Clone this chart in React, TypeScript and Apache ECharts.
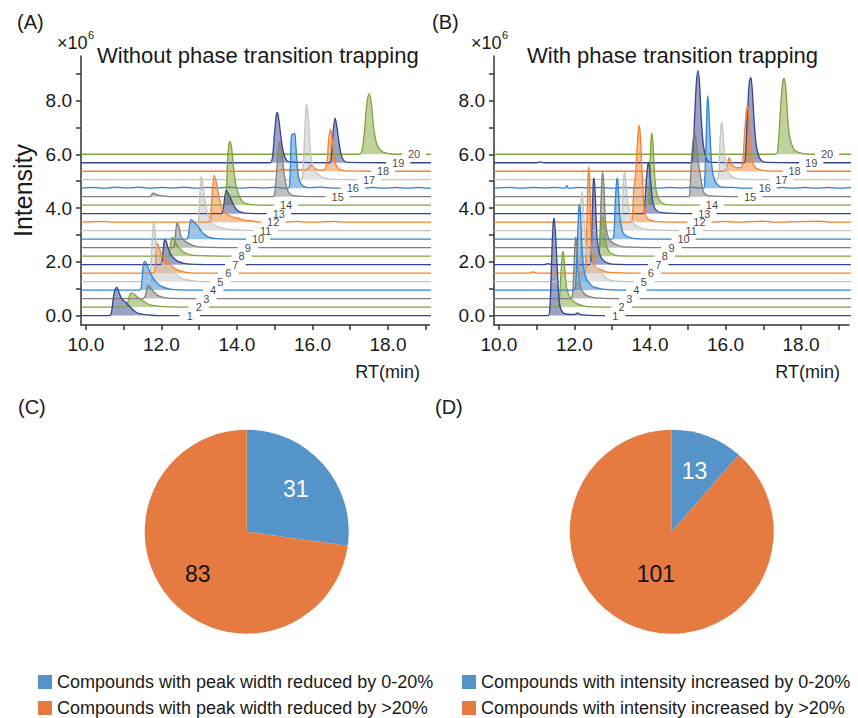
import React, { useEffect, useRef } from "react";
import * as echarts from "echarts";

// ---------- DATA ----------
// trace colour cycle (bottom to top): navy, green, dark grey, blue, light grey, orange
const traceColors = ["#35468c", "#80a43c", "#7f7f7f", "#2f85d6", "#c4c4c4", "#f5822e"];
const baselineStep = 0.316; // ×10^6 offset between successive traces

// Panel A (without trapping): [RT (min), intensity above the trace's baseline (×10^6)]
const peaksA: number[][][] = [
  [[10.62,0],[10.68,0.15],[10.73,0.7],[10.78,1.0],[10.82,1.05],[10.88,0.85],[10.95,0.62],[11.05,0.5],[11.15,0.35],[11.3,0.15],[11.45,0.06],[11.7,0.02],[11.85,0]],
  [[11.06,0],[11.12,0.25],[11.17,0.48],[11.22,0.53],[11.3,0.45],[11.4,0.33],[11.55,0.2],[11.7,0.08],[11.9,0.04],[12.2,0.01]],
  [[11.5,0],[11.57,0.1],[11.62,0.4],[11.66,0.5],[11.72,0.4],[11.8,0.25],[11.9,0.12],[12.05,0.05],[12.25,0.01]],
  [[11.42,0],[11.47,0.15],[11.51,0.8],[11.55,1.07],[11.6,1.0],[11.67,0.75],[11.78,0.45],[11.9,0.25],[12.0,0.14],[12.2,0.05],[12.45,0.01]],
  [[11.65,0],[11.7,0.2],[11.74,1.2],[11.78,2.1],[11.81,2.18],[11.85,1.6],[11.9,1.0],[11.97,0.75],[12.1,0.6],[12.2,0.5],[12.3,0.4],[12.4,0.25],[12.55,0.1],[12.8,0.04],[13.0,0.01]],
  [[11.78,0],[11.83,0.15],[11.86,0.7],[11.89,1.1],[11.93,1.0],[12.0,0.7],[12.1,0.5],[12.18,0.38],[12.3,0.22],[12.45,0.1],[12.65,0.03],[12.9,0]],
  [[11.97,0],[12.02,0.2],[12.06,0.75],[12.09,0.93],[12.13,0.85],[12.18,0.6],[12.23,0.42],[12.32,0.25],[12.44,0.12],[12.6,0.05],[12.9,0.01]],
  [[12.17,0],[12.22,0.2],[12.26,0.6],[12.3,0.7],[12.35,0.6],[12.42,0.4],[12.53,0.22],[12.65,0.1],[12.85,0.03]],
  [[12.3,0],[12.35,0.2],[12.39,0.75],[12.42,0.92],[12.46,0.8],[12.52,0.42],[12.6,0.27],[12.72,0.16],[12.88,0.06],[13.1,0.02]],
  [[12.66,0],[12.71,0.1],[12.75,0.55],[12.79,0.73],[12.85,0.65],[12.93,0.54],[13.0,0.42],[13.06,0.29],[13.15,0.16],[13.25,0.08],[13.45,0.02]],
  [[12.93,0],[12.98,0.3],[13.02,1.4],[13.06,2.0],[13.1,1.7],[13.15,1.1],[13.2,0.75],[13.27,0.45],[13.35,0.28],[13.5,0.14],[13.7,0.07],[14.0,0.03]],
  [[10.5,0.03],[10.7,0],[13.25,0],[13.3,0.2],[13.35,1.2],[13.4,1.74],[13.45,1.5],[13.52,0.96],[13.6,0.55],[13.7,0.35],[13.8,0.25],[14.0,0.15],[14.2,0.08],[14.45,0.03],[14.6,0],[15.6,0.03],[15.9,0],[16.6,0.03],[16.9,0]],
  [[13.58,0],[13.64,0.2],[13.68,0.65],[13.72,0.87],[13.77,0.75],[13.85,0.52],[13.92,0.3],[14.0,0.14],[14.12,0.05],[14.3,0.01]],
  [[13.66,0],[13.71,0.3],[13.75,1.6],[13.79,2.3],[13.82,2.37],[13.86,2.1],[13.92,1.3],[13.98,0.7],[14.04,0.42],[14.12,0.18],[14.2,0.08],[14.4,0.02]],
  [[11.7,0],[11.75,0.1],[11.8,0.13],[11.87,0.08],[11.95,0.05],[12.1,0.02],[12.3,0],[14.95,0],[15.0,0.1],[15.05,0.9],[15.1,1.8],[15.13,2.05],[15.17,1.8],[15.22,1.2],[15.28,0.6],[15.34,0.25],[15.42,0.08],[15.6,0.02]],
  [[10.2,0.03],[10.5,0],[10.8,0.04],[11.1,0.01],[11.4,0.04],[11.7,0],[12.0,0.03],[12.3,0.01],[12.6,0.04],[12.9,0],[13.2,0.03],[13.5,0.01],[13.8,0.04],[14.1,0],[14.4,0.03],[14.7,0.01],[15.0,0.04],[15.2,0.01],[15.36,0],[15.4,0.2],[15.43,1.6],[15.45,2.0],[15.49,2.0],[15.53,2.05],[15.56,1.6],[15.6,0.8],[15.65,0.3],[15.75,0.08],[15.9,0.02],[16.2,0.04],[16.5,0.01],[17.6,0.03],[17.9,0],[18.2,0.03],[18.5,0],[18.8,0.03],[19.1,0]],
  [[13.0,0],[13.05,0.1],[13.1,0],[15.7,0],[15.75,0.3],[15.79,1.6],[15.83,2.7],[15.85,2.79],[15.89,2.3],[15.94,1.2],[16.0,0.55],[16.1,0.28],[16.2,0.15],[16.35,0.05],[16.6,0.01]],
  [[15.1,0],[15.2,0.08],[15.3,0.05],[15.5,0.06],[15.8,0.05],[15.9,0.12],[15.97,0.24],[16.05,0.12],[16.15,0.04],[16.3,0.05],[16.38,0.3],[16.43,1.2],[16.48,1.57],[16.53,1.1],[16.58,0.45],[16.65,0.15],[16.75,0.05],[16.9,0.01]],
  [[14.88,0],[14.94,0.2],[14.99,1.0],[15.04,1.75],[15.07,1.87],[15.11,1.6],[15.17,0.9],[15.23,0.4],[15.3,0.12],[15.4,0.03],[16.45,0],[16.5,0.25],[16.55,1.2],[16.6,1.66],[16.64,1.4],[16.7,0.8],[16.76,0.3],[16.83,0.08],[16.95,0.01]],
  [[17.25,0],[17.32,0.2],[17.38,0.9],[17.44,1.9],[17.5,2.25],[17.56,1.9],[17.62,1.0],[17.7,0.4],[17.8,0.15],[17.95,0.04],[18.1,0.01]],
];

// Panel B (with trapping)
const peaksB: number[][][] = [
  [[11.3,0],[11.35,0.3],[11.39,1.8],[11.43,3.3],[11.46,3.63],[11.5,3.0],[11.55,1.6],[11.6,0.5],[11.67,0.15],[11.8,0.05],[12.0,0.04],[12.08,0.1],[12.15,0.04],[12.3,0.02]],
  [[11.55,0],[11.6,0.2],[11.64,1.2],[11.68,2.0],[11.7,2.07],[11.74,1.5],[11.79,0.75],[11.86,0.42],[11.95,0.25],[12.05,0.14],[12.2,0.06],[12.35,0.02]],
  [[11.9,0],[11.95,0.2],[11.99,1.3],[12.02,2.1],[12.04,2.3],[12.07,1.9],[12.11,0.9],[12.17,0.4],[12.25,0.2],[12.35,0.1],[12.55,0.03]],
  [[11.98,0],[12.03,0.2],[12.07,1.5],[12.11,2.9],[12.13,3.2],[12.16,2.8],[12.2,1.6],[12.25,0.75],[12.32,0.4],[12.4,0.25],[12.5,0.12],[12.7,0.05],[12.9,0.02]],
  [[12.05,0],[12.1,0.3],[12.14,1.8],[12.18,3.1],[12.2,3.36],[12.23,3.0],[12.27,2.0],[12.32,1.1],[12.38,0.8],[12.48,0.6],[12.6,0.5],[12.7,0.35],[12.82,0.15],[12.95,0.05],[13.1,0.02]],
  [[10.8,0],[10.9,0.05],[11.0,0],[12.26,0],[12.3,0.3],[12.33,2.0],[12.36,3.6],[12.38,3.95],[12.41,3.2],[12.44,1.2],[12.48,0.5],[12.55,0.25],[12.7,0.12],[12.9,0.03]],
  [[11.2,0],[11.3,0.04],[11.4,0],[12.4,0],[12.44,0.3],[12.47,1.8],[12.5,3.1],[12.52,3.22],[12.55,2.6],[12.6,1.0],[12.66,0.45],[12.75,0.18],[12.9,0.05],[13.1,0.01]],
  [[12.62,0],[12.66,0.2],[12.7,0.9],[12.74,1.5],[12.77,1.4],[12.81,0.8],[12.86,0.35],[12.93,0.15],[13.05,0.05],[13.2,0.01]],
  [[12.63,0],[12.67,0.3],[12.7,1.6],[12.73,2.6],[12.75,2.8],[12.78,2.3],[12.82,1.0],[12.88,0.45],[12.97,0.22],[13.1,0.12],[13.3,0.03]],
  [[13.0,0],[13.05,0.3],[13.08,1.4],[13.12,2.2],[13.14,2.28],[13.17,1.7],[13.21,0.75],[13.27,0.3],[13.35,0.14],[13.5,0.05],[13.7,0.01]],
  [[13.2,0],[13.25,0.3],[13.28,1.3],[13.31,2.05],[13.33,2.17],[13.37,1.7],[13.43,0.9],[13.5,0.45],[13.6,0.22],[13.75,0.1],[13.95,0.04]],
  [[13.5,0],[13.54,0.3],[13.57,1.2],[13.62,1.8],[13.66,2.8],[13.7,3.55],[13.72,3.59],[13.76,2.8],[13.8,1.6],[13.84,0.6],[13.9,0.2],[14.0,0.08],[14.2,0.02],[16.0,0.03],[16.3,0],[17.0,0.04],[17.3,0],[18.5,0.04],[18.8,0]],
  [[13.82,0],[13.86,0.3],[13.9,1.2],[13.94,1.8],[13.96,1.92],[13.99,1.7],[14.03,1.0],[14.08,0.4],[14.15,0.15],[14.3,0.04]],
  [[13.94,0],[13.97,0.3],[14.0,1.5],[14.03,2.5],[14.05,2.68],[14.08,2.3],[14.12,1.2],[14.17,0.5],[14.24,0.2],[14.35,0.06],[14.5,0.01]],
  [[15.02,0],[15.06,0.3],[15.1,1.4],[15.15,2.2],[15.19,2.37],[15.23,2.0],[15.28,1.3],[15.33,0.85],[15.38,0.4],[15.43,0.14],[15.55,0.04]],
  [[10.3,0.03],[10.6,0],[10.9,0.03],[11.2,0.01],[11.5,0.03],[11.75,0],[11.8,0.1],[11.85,0],[12.1,0.03],[12.4,0.01],[12.7,0.03],[13.0,0],[13.3,0.03],[13.6,0.01],[13.9,0.03],[14.2,0],[14.5,0.03],[14.8,0.01],[15.1,0.03],[15.3,0.01],[15.42,0],[15.45,0.3],[15.48,1.5],[15.51,3.0],[15.53,3.44],[15.56,2.9],[15.6,1.7],[15.64,0.8],[15.7,0.35],[15.78,0.15],[15.9,0.04],[16.2,0.03],[16.5,0],[17.5,0.03],[17.8,0],[18.1,0.03],[18.4,0],[18.7,0.03],[19.0,0],[19.3,0.02]],
  [[15.78,0],[15.82,0.3],[15.85,1.3],[15.88,2.0],[15.9,2.13],[15.93,1.8],[15.97,1.0],[16.02,0.5],[16.08,0.25],[16.2,0.1],[16.4,0.02]],
  [[15.95,0],[16.02,0.1],[16.07,0.4],[16.1,0.51],[16.14,0.35],[16.2,0.2],[16.3,0.13],[16.42,0.15],[16.46,0.4],[16.5,1.3],[16.55,2.2],[16.58,2.43],[16.62,1.9],[16.66,1.0],[16.71,0.4],[16.8,0.12],[16.95,0.04],[17.1,0.01]],
  [[11.0,0],[11.1,0.03],[11.2,0],[15.08,0],[15.13,0.3],[15.18,1.6],[15.23,3.0],[15.27,3.43],[15.31,3.0],[15.36,1.6],[15.41,0.7],[15.46,0.3],[15.52,0.08],[15.65,0.01],[16.48,0],[16.53,0.3],[16.58,1.8],[16.63,3.0],[16.67,3.18],[16.71,2.7],[16.76,1.5],[16.82,0.6],[16.88,0.25],[16.95,0.08],[17.1,0.01]],
  [[17.33,0],[17.39,0.3],[17.44,1.3],[17.5,2.5],[17.55,2.83],[17.6,2.4],[17.65,1.3],[17.7,0.65],[17.77,0.3],[17.85,0.12],[18.0,0.04],[18.15,0.01]],
];

// RT at which each trace number is written (the trace line is broken there)
const labelRtA = [12.75,12.99,13.19,13.37,13.56,13.77,13.96,14.12,14.29,14.56,14.76,14.96,15.11,15.3,16.67,17.07,17.5,17.87,18.27,18.69];
const labelRtB = [13.08,13.25,13.45,13.64,13.84,14.02,14.22,14.39,14.57,14.89,15.09,15.31,15.44,15.64,16.65,17.04,17.48,17.83,18.27,18.69];

const yTickValues = [0, 1, 2, 3, 4, 5, 6, 7, 8, 9];
const yLabelValues = [0, 2, 4, 6, 8];
const xTickValues = [10, 11, 12, 13, 14, 15, 16, 17, 18, 19];
const xLabelValues = [10, 12, 14, 16, 18];

const pieNamesC = ["Compounds with peak width reduced by 0-20%", "Compounds with peak width reduced by >20%"];
const pieValuesC = [31, 83];
const pieNamesD = ["Compounds with intensity increased by 0-20%", "Compounds with intensity increased by >20%"];
const pieValuesD = [13, 101];

// ---------- STYLE ----------
const FONT = "'Liberation Sans', Arial, Helvetica, sans-serif";
const PIE_BLUE = "#5494c8";
const PIE_ORANGE = "#e57b41";
const AXIS_COLOR = "#333";
const TEXT_COLOR = "#1a1a1a";

function buildTrace(pts: number[][], idx: number, start: number, end: number, labelRt: number) {
  const base = idx * baselineStep;
  const w = idx + 1 >= 10 ? 0.32 : 0.27;
  const g0 = labelRt - w;
  const g1 = labelRt + w;
  const all = [[start, 0], ...pts, [end, 0]].slice().sort((a, b) => a[0] - b[0]);
  const out: any[] = [];
  let gapDone = false;
  for (const p of all) {
    if (p[0] >= g0 && p[0] <= g1) continue;
    if (!gapDone && p[0] > g1) {
      out.push([g0, base], [(g0 + g1) / 2, "-"], [g1, base]);
      gapDone = true;
    }
    out.push([p[0], base + p[1]]);
  }
  if (!gapDone) out.push([g0, base], [(g0 + g1) / 2, "-"], [g1, base]);
  return out;
}

function panelSeries(peaks: number[][][], labels: number[], axisIndex: number, start: number, end: number) {
  const series: any[] = [];
  for (let i = peaks.length - 1; i >= 0; i--) {
    const color = traceColors[i % traceColors.length];
    series.push({
      type: "line",
      xAxisIndex: axisIndex,
      yAxisIndex: axisIndex,
      data: buildTrace(peaks[i], i, start, end, labels[i]),
      symbol: "none",
      smooth: 0.3,
      connectNulls: false,
      clip: false,
      silent: true,
      lineStyle: { color, width: 1.3 },
      itemStyle: { color },
      areaStyle: { color, opacity: 0.5, origin: i * baselineStep },
      emphasis: { disabled: true },
      z: 2,
    });
  }
  series.push({
    type: "scatter",
    xAxisIndex: axisIndex,
    yAxisIndex: axisIndex,
    symbolSize: 1,
    silent: true,
    clip: false,
    itemStyle: { color: "rgba(0,0,0,0)" },
    label: {
      show: true,
      position: "inside",
      formatter: "{b}",
      fontSize: 11,
      lineHeight: 9,
      fontFamily: FONT,
      color: "#111",
    },
    data: labels.map((l, i) => ({ name: String(i + 1), value: [l, i * baselineStep] })),
    z: 5,
  });
  return series;
}

function axisPair(gridIndex: number, xmin: number, xmax: number, withName: boolean) {
  const lineStyle = { color: AXIS_COLOR, width: 1.5 };
  return {
    x: {
      type: "value",
      gridIndex,
      min: xmin,
      max: xmax,
      axisLine: { show: true, onZero: false, lineStyle },
      axisTick: { show: true, customValues: xTickValues, length: 5, lineStyle },
      axisLabel: {
        customValues: xLabelValues,
        formatter: (v: number) => v.toFixed(1),
        fontSize: 19,
        fontFamily: FONT,
        color: TEXT_COLOR,
        margin: 10,
      },
      splitLine: { show: false },
    },
    y: {
      type: "value",
      gridIndex,
      min: -0.35,
      max: 9.66,
      name: withName ? "Intensity" : "",
      nameLocation: "middle",
      nameGap: 46,
      nameRotate: 90,
      nameTextStyle: { fontSize: 25, fontFamily: FONT, color: TEXT_COLOR },
      axisLine: { show: true, onZero: false, lineStyle },
      axisTick: { show: true, customValues: yTickValues, length: 5, lineStyle },
      axisLabel: {
        customValues: yLabelValues,
        formatter: (v: number) => v.toFixed(1),
        fontSize: 19,
        fontFamily: FONT,
        color: TEXT_COLOR,
        margin: 9,
      },
      splitLine: { show: false },
    },
  };
}

function txt(text: string, x: number, y: number, size: number, align = "left", color = TEXT_COLOR) {
  return {
    type: "text",
    x,
    y,
    silent: true,
    style: {
      text,
      fill: color,
      font: `${size}px ${FONT}`,
      textAlign: align,
      textVerticalAlign: "middle",
    },
  };
}

export default function App() {
  const ref = useRef<HTMLDivElement>(null);

  useEffect(() => {
    document.body.style.margin = "0";
    if (!ref.current) return;
    const chart = echarts.init(ref.current, undefined, { renderer: "svg" });

    const a = axisPair(0, 9.87, 19.1, true);
    const b = axisPair(1, 9.87, 19.27, false);

    const pieBase = {
      type: "pie",
      startAngle: 90,
      clockwise: true,
      silent: true,
      emphasis: { disabled: true },
      labelLine: { show: false },
    };

    const legendBase = {
      orient: "vertical",
      top: 673,
      height: 80,
      padding: 0,
      icon: "rect",
      itemWidth: 14,
      itemHeight: 14,
      itemGap: 8,
      selectedMode: false,
      textStyle: { fontSize: 18, fontFamily: FONT, color: TEXT_COLOR },
    };

    const option: any = {
      animation: false,
      backgroundColor: "#ffffff",
      textStyle: { fontFamily: FONT },
      grid: [
        { left: 81, top: 56, width: 348.5, height: 269 },
        { left: 494, top: 56, width: 355, height: 269 },
      ],
      xAxis: [a.x, b.x],
      yAxis: [a.y, b.y],
      legend: [
        { ...legendBase, data: pieNamesC, left: 38 },
        { ...legendBase, data: pieNamesD, left: 462 },
      ],
      series: [
        ...panelSeries(peaksA, labelRtA, 0, 9.87, 19.2),
        ...panelSeries(peaksB, labelRtB, 1, 9.87, 19.38),
        {
          ...pieBase,
          center: [246.7, 531.7],
          radius: 102,
          label: { show: false },
          data: pieNamesC.map((n, i) => ({ name: n, value: pieValuesC[i], itemStyle: { color: i === 0 ? PIE_BLUE : PIE_ORANGE } })),
        },
        {
          ...pieBase,
          center: [671.7, 531.7],
          radius: 102,
          label: { show: false },
          data: pieNamesD.map((n, i) => ({ name: n, value: pieValuesD[i], itemStyle: { color: i === 0 ? PIE_BLUE : PIE_ORANGE } })),
        },
        // label carriers (transparent) so that the numbers sit at the reference radius
        {
          ...pieBase,
          center: [246.7, 531.7],
          radius: 124,
          itemStyle: { color: "rgba(0,0,0,0)" },
          label: { show: true, position: "inside", formatter: "{c}", fontSize: 23, fontFamily: FONT },
          data: pieValuesC.map((v, i) => ({ name: "lblC" + i, value: v, label: { color: i === 0 ? "#ffffff" : "#111111" } })),
        },
        {
          ...pieBase,
          center: [671.7, 531.7],
          radius: 124,
          itemStyle: { color: "rgba(0,0,0,0)" },
          label: { show: true, position: "inside", formatter: "{c}", fontSize: 23, fontFamily: FONT },
          data: pieValuesD.map((v, i) => ({ name: "lblD" + i, value: v, label: { show: i === 0, color: "#ffffff" } })),
        },
        {
          ...pieBase,
          center: [671.7, 531.7],
          radius: 84,
          itemStyle: { color: "rgba(0,0,0,0)" },
          label: { show: true, position: "inside", formatter: "{c}", fontSize: 23, fontFamily: FONT },
          data: pieValuesD.map((v, i) => ({ name: "lblE" + i, value: v, label: { show: i === 1, color: "#111111" } })),
        },
      ],
      graphic: [
        txt("(A)", 17, 22, 20),
        txt("(B)", 432, 22, 20),
        txt("(C)", 18, 407, 20),
        txt("(D)", 435, 407, 20),
        txt("×10", 57, 43, 18),
        txt("6", 88, 35, 11),
        txt("×10", 471, 43, 18),
        txt("6", 502, 35, 11),
        txt("Without phase transition trapping", 97, 55, 22),
        txt("With phase transition trapping", 527, 55, 22),
        txt("RT(min)", 420, 372, 18, "right"),
        txt("RT(min)", 840, 372, 18, "right"),
      ],
    };

    chart.setOption(option);
    return () => chart.dispose();
  }, []);

  return <div ref={ref} style={{ width: 858, height: 718 }} />;
}
